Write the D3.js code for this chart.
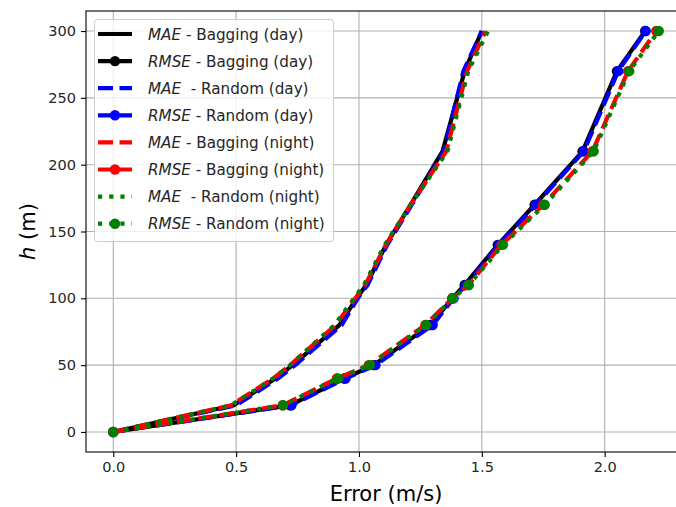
<!DOCTYPE html>
<html>
<head>
<meta charset="utf-8">
<script src="https://cdn.jsdelivr.net/npm/d3@7"></script>
<style>
  body { margin: 0; background: #fff; }
  svg { display: block; font-family: "DejaVu Sans", sans-serif; }
</style>
</head>
<body>
<svg id="chart" width="676" height="507"></svg>
<script>
// heights (m)
var heights = [0, 20, 40, 50, 80, 100, 110, 140, 170, 210, 270, 300];

// errors (m/s)
var maeBagDay    = [0, 0.49, 0.66, 0.73, 0.92, 0.99, 1.03, 1.11, 1.21, 1.34, 1.43, 1.50];
var rmseBagDay   = [0, 0.72, 0.94, 1.06, 1.29, 1.38, 1.43, 1.565, 1.715, 1.91, 2.05, 2.165];
var maeRndDay    = [0, 0.50, 0.67, 0.74, 0.93, 0.995, 1.035, 1.115, 1.215, 1.345, 1.425, 1.50];
var rmseRndDay   = [0, 0.725, 0.945, 1.067, 1.30, 1.385, 1.435, 1.57, 1.72, 1.915, 2.055, 2.167];
var maeBagNight  = [0, 0.48, 0.65, 0.72, 0.905, 0.985, 1.025, 1.11, 1.21, 1.355, 1.44, 1.515];
var rmseBagNight = [0, 0.69, 0.91, 1.04, 1.27, 1.38, 1.445, 1.58, 1.75, 1.95, 2.095, 2.21];
var maeRndNight  = [0, 0.48, 0.65, 0.72, 0.90, 0.98, 1.02, 1.105, 1.21, 1.36, 1.445, 1.525];
var rmseRndNight = [0, 0.69, 0.914, 1.043, 1.273, 1.382, 1.447, 1.586, 1.756, 1.955, 2.10, 2.22];

var xTicks = [0, 0.5, 1.0, 1.5, 2.0];
var yTicks = [0, 50, 100, 150, 200, 250, 300];

var series = [
  {metric: "MAE",  rest: " - Bagging (day)",   vals: maeBagDay,    color: "#000000", dash: null,   marker: false},
  {metric: "RMSE", rest: " - Bagging (day)",   vals: rmseBagDay,   color: "#000000", dash: null,   marker: true},
  {metric: "MAE",  rest: "  - Random (day)",   vals: maeRndDay,    color: "#0000ff", dash: "15,6.5", marker: false},
  {metric: "RMSE", rest: " - Random (day)",    vals: rmseRndDay,   color: "#0000ff", dash: "15,6.5", marker: true},
  {metric: "MAE",  rest: " - Bagging (night)", vals: maeBagNight,  color: "#ff0000", dash: "15,6.5", marker: false},
  {metric: "RMSE", rest: " - Bagging (night)", vals: rmseBagNight, color: "#ff0000", dash: "15,6.5", marker: true},
  {metric: "MAE",  rest: "  - Random (night)", vals: maeRndNight,  color: "#008000", dash: "4.2,7", marker: false},
  {metric: "RMSE", rest: " - Random (night)",  vals: rmseRndNight, color: "#008000", dash: "4.2,7", marker: true}
];

var svg = d3.select("#chart");
var L = 86, T = 11, R = 686, B = 452;

var x = d3.scaleLinear().domain([-0.111, 2.331]).range([L, R]);
var y = d3.scaleLinear().domain([-15, 315]).range([B, T]);

// grid
var g = svg.append("g");
g.selectAll(".gx").data(xTicks).enter().append("line")
  .attr("x1", d => x(d)).attr("x2", d => x(d))
  .attr("y1", T).attr("y2", B)
  .attr("stroke", "#b0b0b0").attr("stroke-width", 1.1);
g.selectAll(".gy").data(yTicks).enter().append("line")
  .attr("x1", L).attr("x2", R)
  .attr("y1", d => y(d)).attr("y2", d => y(d))
  .attr("stroke", "#b0b0b0").attr("stroke-width", 1.1);

// series
var line = d3.line()
  .x(d => x(d[0]))
  .y(d => y(d[1]));

series.forEach(function(s) {
  var pts = s.vals.map((v, i) => [v, heights[i]]);
  svg.append("path")
    .datum(pts)
    .attr("d", line)
    .attr("fill", "none")
    .attr("stroke", s.color)
    .attr("stroke-width", 4.2)
    .attr("stroke-linejoin", "round")
    .attr("stroke-dasharray", s.dash);
  if (s.marker) {
    svg.selectAll(null).data(pts).enter().append("circle")
      .attr("cx", d => x(d[0]))
      .attr("cy", d => y(d[1]))
      .attr("r", 5.2)
      .attr("fill", s.color);
  }
});

// axes frame
var xAxis = d3.axisBottom(x).tickValues(xTicks).tickFormat(d3.format(".1f")).tickSize(5).tickPadding(5);
var yAxis = d3.axisLeft(y).tickValues(yTicks).tickSize(5).tickPadding(5);

var gx = svg.append("g").attr("transform", "translate(0," + B + ")").call(xAxis);
var gy = svg.append("g").attr("transform", "translate(" + L + ",0)").call(yAxis);
[gx, gy].forEach(function(a) {
  a.select(".domain").remove();
  a.selectAll("line").attr("stroke", "#000").attr("stroke-width", 1.1);
  a.selectAll("text").attr("font-size", 14.5).attr("fill", "#262626")
    .attr("font-family", "DejaVu Sans");
});

svg.append("rect")
  .attr("x", L).attr("y", T)
  .attr("width", R - L).attr("height", B - T)
  .attr("fill", "none").attr("stroke", "#000").attr("stroke-width", 1.1);

// labels
svg.append("text")
  .attr("x", (L + R) / 2).attr("y", 501)
  .attr("text-anchor", "middle")
  .attr("font-size", 21)
  .attr("fill", "#000")
  .text("Error (m/s)");

var yl = svg.append("text")
  .attr("transform", "translate(35," + ((T + B) / 2) + ") rotate(-90)")
  .attr("text-anchor", "middle")
  .attr("font-size", 21)
  .attr("fill", "#000");
yl.append("tspan").attr("font-style", "italic").text("h");
yl.append("tspan").text(" (m)");

// legend
var lg = svg.append("g");
lg.append("rect")
  .attr("x", 94.5).attr("y", 19.5)
  .attr("width", 239).attr("height", 222)
  .attr("rx", 3)
  .attr("fill", "#fff").attr("fill-opacity", 0.8)
  .attr("stroke", "#cccccc").attr("stroke-width", 1);

var rows = lg.selectAll(".row").data(series).enter().append("g")
  .attr("transform", (d, i) => "translate(0," + (34 + i * 27.1) + ")");

rows.append("line")
  .attr("x1", 98).attr("x2", 132)
  .attr("y1", 0).attr("y2", 0)
  .attr("stroke", d => d.color)
  .attr("stroke-width", 4.2)
  .attr("stroke-dasharray", d => d.dash);

rows.filter(d => d.marker).append("circle")
  .attr("cx", 115).attr("cy", 0).attr("r", 5.2)
  .attr("fill", d => d.color);

var tx = rows.append("text")
  .attr("x", 148).attr("y", 5.5)
  .attr("font-size", 15.2)
  .attr("fill", "#262626")
  .style("white-space", "pre");
tx.append("tspan").attr("font-style", "italic").text(d => d.metric);
tx.append("tspan").text(d => d.rest);
</script>
</body>
</html>
